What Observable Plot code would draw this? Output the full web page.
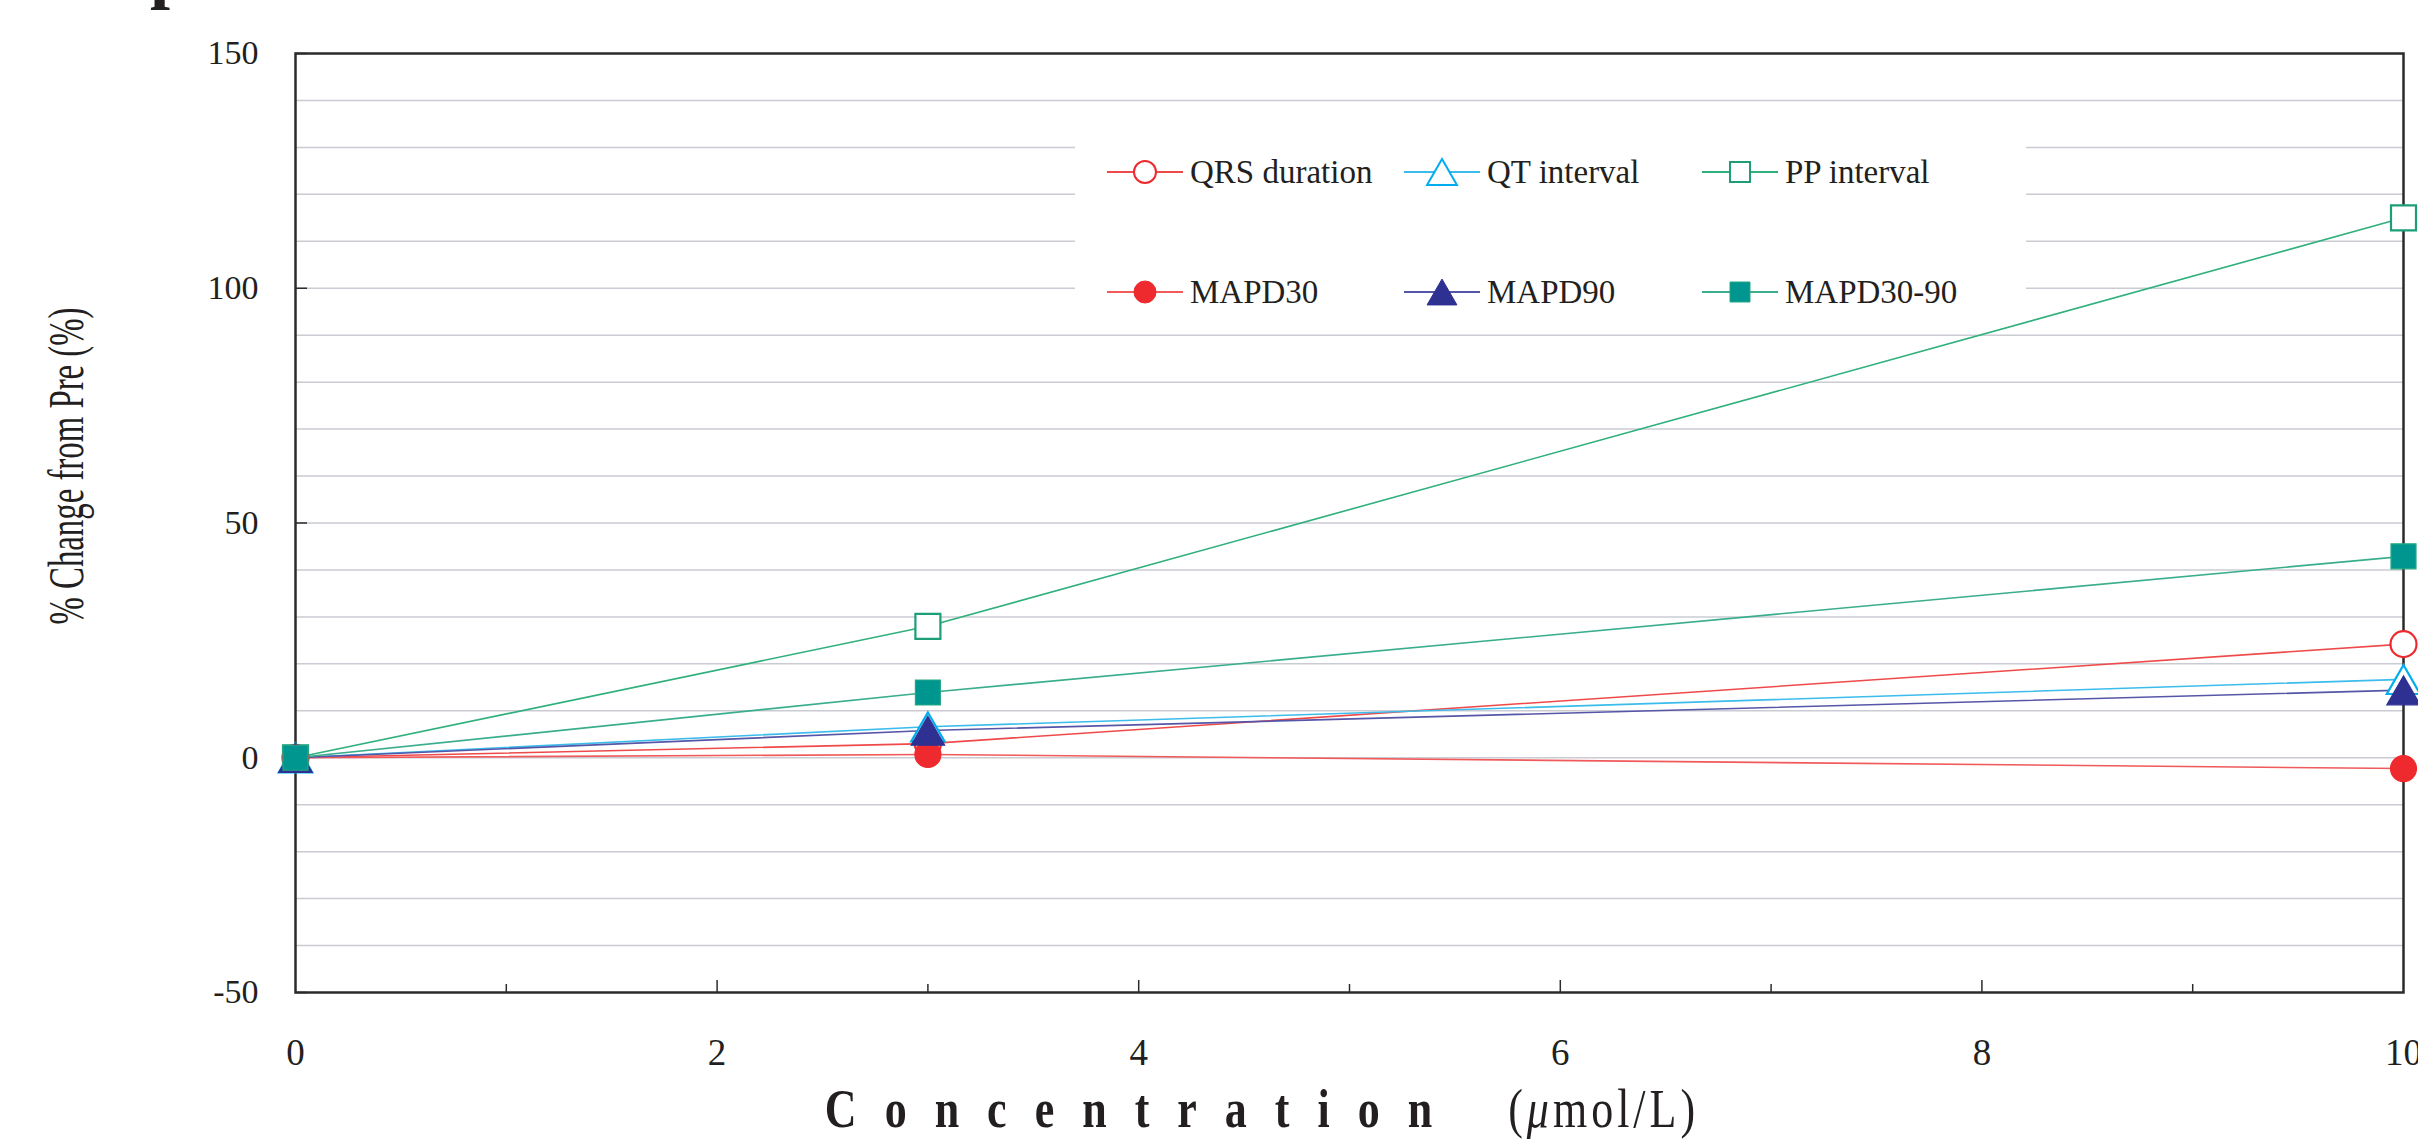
<!DOCTYPE html>
<html>
<head>
<meta charset="utf-8">
<script src="https://cdn.jsdelivr.net/npm/d3@7"></script>
<script src="https://cdn.jsdelivr.net/npm/@observablehq/plot@0.6"></script>
<style>
  html, body { margin: 0; padding: 0; background: #fff; }
  body { width: 2418px; height: 1141px; position: relative; overflow: hidden;
         font-family: "Liberation Serif", "Times New Roman", serif; color: #231f20; }
  #chart { position: absolute; left: 0; top: 0; }
  .anchor { position: absolute; width: 0; height: 0; }
  .centered { position: absolute; left: 0; top: 0; white-space: nowrap; line-height: 1; }
</style>
</head>
<body>
<div id="chart"></div>

<div class="anchor" style="left:150px; top:-65px;">
  <div style="position:absolute; left:0; top:0; font-size:72px; line-height:72px; font-weight:bold; white-space:nowrap;">p</div>
</div>

<div class="anchor" style="left:66px; top:466px;">
  <div class="centered" style="font-size:50px; transform: translate(-50%,-50%) rotate(-90deg) scale(0.656,1);">% Change from Pre (%)</div>
</div>

<div class="anchor" style="left:1262px; top:1109px;">
  <div class="centered" style="font-size:55px; line-height:0.9; font-weight:bold; transform: translate(-50%,-50%) scale(0.8,1);"><span style="letter-spacing:35px">Concentratio</span><span>n</span><span style="margin-left:95px; letter-spacing:5px; font-weight:normal;">(<i>μ</i>mol/L)</span></div>
</div>

<script>
// ---- data ----
const concentrations = [0, 3, 10];
const seriesNames = ["QRS duration", "QT interval", "PP interval", "MAPD30", "MAPD90", "MAPD30-90"];
const qrsDuration = [0, 3.0, 24.2];
const qtInterval  = [0, 6.6, 16.7];
const ppInterval  = [0, 28.0, 115.0];
const mapd30      = [0, 0.7, -2.3];
const mapd90      = [0, 5.8, 14.4];
const mapd30to90  = [0, 13.9, 42.9];
const yMajorTicks = [-50, 0, 50, 100, 150];
const yGridTicks  = [-40, -30, -20, -10, 0, 10, 20, 30, 40, 50, 60, 70, 80, 90, 100, 110, 120, 130, 140];
const xMajorTicks = [0, 2, 4, 6, 8, 10];
const xInnerMajor = [2, 4, 6, 8];
const xInnerMinor = [1, 3, 5, 7, 9];

// ---- styles ----
const valuesList = [qrsDuration, qtInterval, ppInterval, mapd30, mapd90, mapd30to90];
const styles = [
  {symbol: "circle",   line: "#ef4a4a", fill: "#ffffff", stroke: "#ee2a2e", r: 13,   lr: 11},
  {symbol: "triangle", line: "#3cbcec", fill: "#ffffff", stroke: "#00aeef", r: 12.4, lr: 11.1},
  {symbol: "square",   line: "#2fb07c", fill: "#ffffff", stroke: "#1d9e78", r: 14.1, lr: 11.3},
  {symbol: "circle",   line: "#f05a5a", fill: "#ee2a2e", stroke: "#ee2a2e", r: 13,   lr: 11},
  {symbol: "triangle", line: "#5656a8", fill: "#2e3192", stroke: "#2e3192", r: 12.4, lr: 11.1},
  {symbol: "square",   line: "#3aae8c", fill: "#009690", stroke: "#26a884", r: 14.1, lr: 11.3}
];
const series = seriesNames.map((name, i) => ({name, values: valuesList[i], ...styles[i]}));
const rows = series.flatMap(s => concentrations.map((c, j) => ({series: s.name, x: c, y: s.values[j]})));

const lineMarks = series.map(s =>
  Plot.line(rows.filter(d => d.series === s.name), {x: "x", y: "y", stroke: s.line, strokeWidth: 1.6}));
const dotMarks = series.map(s =>
  Plot.dot(rows.filter(d => d.series === s.name), {
    x: "x", y: "y", symbol: s.symbol, r: s.r, fill: s.fill, stroke: s.stroke,
    strokeWidth: s.fill === "#ffffff" ? 2.2 : 1.2, dy: s.symbol === "triangle" ? 5 : 0
  }));

const chart = Plot.plot({
  width: 2418,
  height: 1080,
  marginLeft: 295,
  marginRight: 15,
  marginTop: 53,
  marginBottom: 88,
  style: {fontFamily: "'Liberation Serif', 'Times New Roman', serif", color: "#231f20", background: "#ffffff"},
  x: {domain: [0, 10]},
  y: {domain: [-50, 150]},
  marks: [
    Plot.gridY(yGridTicks, {stroke: "#cbcbd4", strokeOpacity: 1, strokeWidth: 1.5}),
    Plot.axisY(yMajorTicks, {tickSize: 12, dx: 12, fill: "none", stroke: "#2b2b2b", strokeWidth: 1.5, label: null}),
    Plot.axisX(xInnerMajor, {tickSize: 12, dy: -12, fill: "none", stroke: "#2b2b2b", strokeWidth: 1.5, label: null}),
    Plot.axisX(xInnerMinor, {tickSize: 8, dy: -8, fill: "none", stroke: "#2b2b2b", strokeWidth: 1.5, label: null}),
    Plot.axisY(yMajorTicks, {tickSize: 0, tickPadding: 37, fontSize: 34, label: null, tickFormat: d => String(d)}),
    Plot.axisX(xMajorTicks, {tickSize: 0, tickPadding: 46, fontSize: 37, label: null, tickFormat: d => String(d)}),
    Plot.frame({stroke: "#2b2b2b", strokeWidth: 2.5}),
    ...lineMarks,
    ...dotMarks
  ]
});
document.getElementById("chart").appendChild(chart);

// ---- legend (inside plot area, white box) ----
const legendColX = [32, 329, 627];
const legendRowY = [67, 187];
const legend = d3.select("body").append("div")
  .style("position", "absolute").style("left", "1075px").style("top", "105px")
  .style("width", "951px").style("height", "210px").style("background", "#ffffff");
const symbolTypes = {circle: d3.symbolCircle, triangle: d3.symbolTriangle, square: d3.symbolSquare};
series.forEach((s, i) => {
  const col = i % 3, row = Math.floor(i / 3);
  const item = legend.append("div")
    .style("position", "absolute").style("left", legendColX[col] + "px")
    .style("top", (legendRowY[row] - 20) + "px").style("height", "40px")
    .style("display", "flex").style("align-items", "center").style("white-space", "nowrap");
  const svg = item.append("svg").attr("width", 76).attr("height", 40);
  svg.append("line").attr("x1", 0).attr("x2", 76).attr("y1", 20).attr("y2", 20)
    .attr("stroke", s.line).attr("stroke-width", 2);
  const size = Math.PI * s.lr * s.lr;
  svg.append("path")
    .attr("transform", `translate(38,${s.symbol === "triangle" ? 24.3 : 20})`)
    .attr("d", d3.symbol(symbolTypes[s.symbol], size)())
    .attr("fill", s.fill).attr("stroke", s.stroke)
    .attr("stroke-width", s.fill === "#ffffff" ? 2 : 1);
  item.append("span").text(s.name)
    .style("margin-left", "7px").style("font-size", "33px").style("line-height", "1");
});
</script>
</body>
</html>
